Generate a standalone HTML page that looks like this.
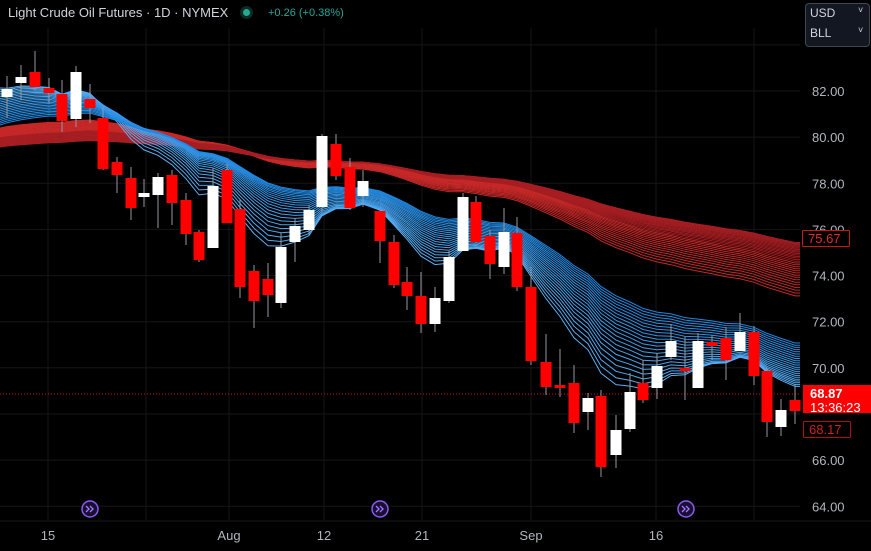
<!DOCTYPE html>
<html><head><meta charset="utf-8">
<style>
html,body{margin:0;padding:0;background:#000;width:871px;height:551px;overflow:hidden;font-family:"Liberation Sans",sans-serif;}
#c{position:absolute;left:0;top:0;}
.t{position:absolute;white-space:nowrap;}
</style></head><body>
<svg id="c" width="871" height="551" xmlns="http://www.w3.org/2000/svg"></svg>
<div class="t" style="left:8px;top:5px;font-size:13px;color:#d1d4dc;">Light Crude Oil Futures · 1D · NYMEX</div>
<div class="t" style="left:240px;top:6px;width:13px;height:13px;border-radius:50%;background:#0d2a24;"></div>
<div class="t" style="left:243px;top:9px;width:7px;height:7px;border-radius:50%;background:#22ab94;"></div>
<div class="t" style="left:268px;top:7px;font-size:11px;color:#26a69a;">+0.26 (+0.38%)</div>
<div class="t" style="left:805px;top:3px;width:63px;height:42px;border:1px solid #434651;border-radius:4px;background:#131722;"></div>
<div class="t" style="left:810px;top:6px;font-size:12px;color:#d1d4dc;">USD</div>
<div class="t" style="left:810px;top:26px;font-size:12px;color:#d1d4dc;">BLL</div>
<div class="t" style="left:858px;top:5px;font-size:9px;color:#d1d4dc;">˅</div>
<div class="t" style="left:858px;top:25px;font-size:9px;color:#d1d4dc;">˅</div>
<script>
var s=document.getElementById('c');var h='';
for(var p=64;p<=84;p+=2){var y=91+(82-p)*23.07;h+='<line x1="0" x2="800" y1="'+y.toFixed(1)+'" y2="'+y.toFixed(1)+'" stroke="#161616"/>';
 if(p<84&&p!=68)h+='<text x="812" y="'+(y+5).toFixed(1)+'" fill="#b2b5be" font-size="13" font-family="Liberation Sans">'+p.toFixed(2)+'</text>';}
[48,146,229,324,422,531,656,754].forEach(function(x){h+='<line x1="'+x+'" x2="'+x+'" y1="28" y2="520" stroke="#161616"/>';});
var D=[[7,89,97,76,118,0],[21,77,83,65,100,0],[35,72,87,51,90,1],[49,88,93,78,103,1],[62,94,121,80,132,1],[76,72,119,66,127,0],[90,99,108,84,123,1],[103,118,169,107,170,1],[117,162,175,157,193,1],[131,178,208,167,220,1],[144,193,197,179,207,0],[158,177,195,173,228,0],[172,175,203,170,225,1],[186,200,234,193,245,1],[199,232,260,230,262,1],[213,186,248,168,248,0],[227,170,223,164,223,1],[240,209,287,200,298,1],[254,271,301,265,328,1],[268,279,295,263,317,1],[281,247,303,233,308,0],[295,226,242,218,262,0],[309,210,230,205,235,0],[322,136,207,134,212,0],[336,144,176,134,180,1],[350,167,208,158,210,1],[363,181,196,170,207,0],[380,211,241,211,263,1],[394,242,285,235,288,1],[407,282,296,267,310,1],[421,296,324,272,333,1],[435,298,324,287,332,0],[449,257,301,251,303,0],[463,197,251,193,251,0],[476,202,242,196,243,1],[490,236,264,230,279,1],[504,232,267,208,274,0],[517,233,287,217,291,1],[531,287,361,267,365,1],[546,362,387,334,395,1],[560,385,388,349,397,1],[574,383,423,365,433,1],[588,398,412,393,430,0],[601,396,467,390,477,1],[616,430,455,415,468,0],[630,392,429,373,432,0],[643,383,400,360,403,1],[657,366,388,353,399,0],[671,341,357,324,360,0],[685,368,371,337,400,1],[698,341,388,333,388,0],[712,342,346,335,360,1],[726,338,360,327,380,1],[740,332,351,313,351,0],[754,332,376,326,385,1],[767,371,422,368,437,1],[781,410,427,399,436,0],[795,400,411,384,424,1]];
function ribbon(n,p0,p1,s0,s1,col){var o='';for(var k=0;k<n;k++){var f=k/(n-1);var per=p0+(p1-p0)*f;var a=2/(per+1);var e=s0+(s1-s0)*f;var pts='0,'+e.toFixed(1);
 D.forEach(function(d){var c=d[5]?d[2]:d[1];e=e+a*(c-e);pts+=' '+d[0]+','+e.toFixed(1);});
 pts+=' 800,'+e.toFixed(1);o+='<polyline points="'+pts+'" fill="none" stroke="'+col(f)+'" stroke-width="1"/>';}return o;}
h+=ribbon(30,55,112,128,147,function(f){return f<0.5?'#c62828':'#a61e22';});
h+=ribbon(22,9,30,88,125,function(f){var r=Math.round(90-60*f),g=Math.round(175-40*f),b=Math.round(245-20*f);return 'rgb('+r+','+g+','+b+')';});
h+='<line x1="0" x2="800" y1="394" y2="394" stroke="#d01010" stroke-dasharray="1,2"/>';
D.forEach(function(d){var x=d[0];h+='<line x1="'+x+'" x2="'+x+'" y1="'+d[3]+'" y2="'+d[4]+'" stroke="#9598a1"/>';
 h+='<rect x="'+(x-5.5)+'" y="'+d[1]+'" width="11" height="'+Math.max(2,d[2]-d[1])+'" fill="'+(d[5]?'#ff0000':'#ffffff')+'"/>';});
h+='<rect x="802.5" y="230.5" width="47" height="16" fill="#000" stroke="#c81818" rx="1"/><text x="808" y="243" fill="#e03030" font-size="13" font-family="Liberation Sans">75.67</text>';
h+='<rect x="803" y="385" width="68" height="28" fill="#ff0000"/><text x="810" y="398" fill="#fff" font-size="13" font-weight="bold" font-family="Liberation Sans">68.87</text><text x="810" y="412" fill="#fff" font-size="13" font-family="Liberation Sans">13:36:23</text>';
h+='<rect x="803.5" y="421.5" width="47" height="16" fill="#000" stroke="#b01010" rx="1"/><text x="809" y="434" fill="#d02020" font-size="13" font-family="Liberation Sans">68.17</text>';
h+='<line x1="0" x2="871" y1="521" y2="521" stroke="#1a1a1a"/>';
[[48,'15'],[229,'Aug'],[324,'12'],[422,'21'],[531,'Sep'],[656,'16']].forEach(function(l){h+='<text x="'+l[0]+'" y="540" text-anchor="middle" fill="#b2b5be" font-size="13" font-family="Liberation Sans">'+l[1]+'</text>';});
[90,380,686].forEach(function(x){h+='<circle cx="'+x+'" cy="509" r="8" fill="#1a0f33" stroke="#8a5cf0" stroke-width="1.5"/><path d="M'+(x-4)+' 506 l3 3 -3 3 M'+(x)+' 506 l3 3 -3 3" stroke="#a07cff" fill="none" stroke-width="1.3"/>';});
s.innerHTML=h;
</script>
</body></html>
